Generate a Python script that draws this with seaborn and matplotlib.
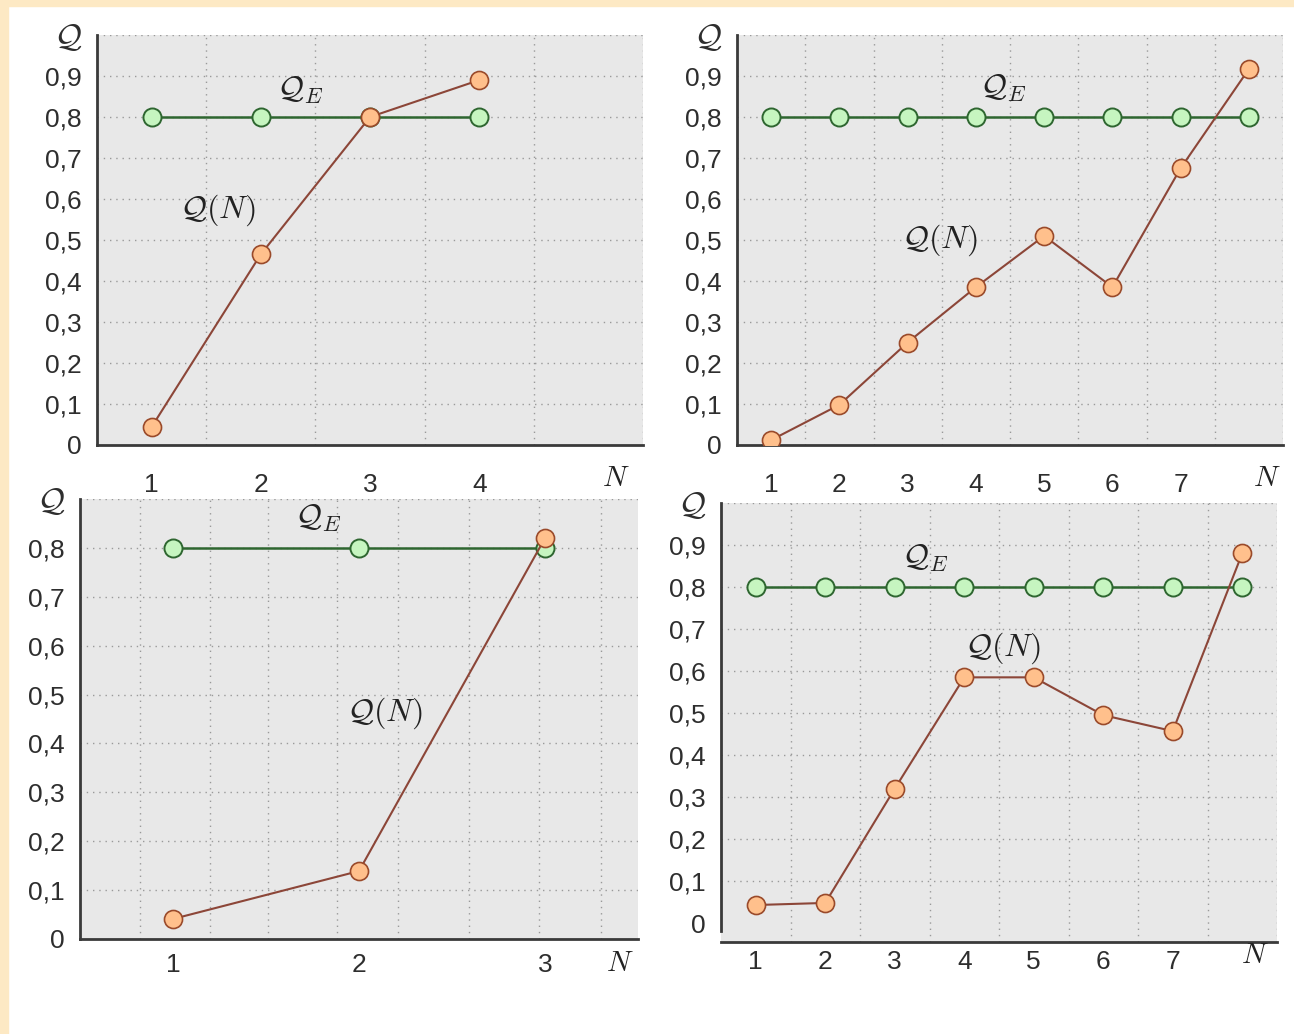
import numpy as np
import pandas as pd
import seaborn as sns
import matplotlib.pyplot as plt
from matplotlib.patches import Rectangle

# values
q_tl = [0.044, 0.465, 0.80, 0.89]
q_tr = [0.012, 0.098, 0.25, 0.385, 0.51, 0.385, 0.675, 0.917]
q_bl = [0.041, 0.139, 0.82]
q_br = [0.043, 0.048, 0.32, 0.585, 0.585, 0.495, 0.457, 0.88]
q_e = 0.8

tl_xlabels = ['1', '2', '3', '4']
tr_xlabels = ['1', '2', '3', '4', '5', '6', '7']
bl_xlabels = ['1', '2', '3']
br_xlabels = ['1', '2', '3', '4', '5', '6', '7']

sns.set_theme(style="white")
plt.rcParams['font.family'] = ['Liberation Sans', 'DejaVu Sans']
plt.rcParams['mathtext.fontset'] = 'cm'

W, H = 1294, 1034
fig = plt.figure(figsize=(W / 100, H / 100), dpi=100)
fig.patch.set_facecolor('white')
cream = '#fde9c4'
fig.patches.append(Rectangle((0, 0), 8 / W, 1, transform=fig.transFigure, color=cream, zorder=0))
fig.patches.append(Rectangle((0, 1 - 6 / H), 1, 6 / H, transform=fig.transFigure, color=cream, zorder=0))

grid_kw = dict(color='#9a9a9a', lw=1.0, ls=(0, (1, 3.5)))
spine_col = '#3a3a3a'
lab_col = '#2e2e2e'


def panel(px, q, nbins, ylim, yt, xlabels, xpad, n_xy, qe_xy, qn_xy, vgrid=None, left_bound=None):
    l, r, t, b = px
    ax = fig.add_axes([l / W, 1 - b / H, (r - l) / W, (b - t) / H])
    ax.set_facecolor('#e8e8e8')
    n = np.arange(1, len(q) + 1)
    df = pd.DataFrame({'N': np.concatenate([n, n]),
                       'Q': np.concatenate([np.full(len(q), q_e), q]),
                       'series': ['QE'] * len(q) + ['QN'] * len(q)})
    sns.lineplot(data=df[df.series == 'QE'], x='N', y='Q', ax=ax, color='#2e6630', lw=1.8,
                 marker='o', markersize=13, markerfacecolor='#c6f5c0', markeredgecolor='#2e6630',
                 markeredgewidth=1.4, zorder=3)
    sns.lineplot(data=df[df.series == 'QN'], x='N', y='Q', ax=ax, color='#8c4638', lw=1.5,
                 marker='o', markersize=13, markerfacecolor='#ffc08c', markeredgecolor='#9a4a2a',
                 markeredgewidth=1.2, zorder=4)
    ax.set_xlim(0.5, nbins + 0.5)
    ax.set_ylim(*ylim)
    bounds = np.arange(0.5, nbins + 1, 1.0)
    ax.set_xticks(bounds)
    ax.set_xticklabels([''] * len(bounds))
    ax.set_xticks(np.arange(1, len(xlabels) + 1), minor=True)
    ax.set_xticklabels(xlabels, minor=True)
    ax.tick_params(axis='x', which='major', direction='out', length=8, width=1.6, color=spine_col)
    ax.tick_params(axis='x', which='minor', length=0, pad=xpad, labelsize=19, labelcolor=lab_col)
    ax.set_yticks(yt)
    ylabs = ['0'] + [('%.1f' % v).replace('.', ',') for v in yt[1:-1]] + [r'$\mathcal{Q}$']
    ax.set_yticklabels(ylabs)
    ax.tick_params(axis='y', direction='out', length=8, width=1.6, color=spine_col, pad=3,
                   labelsize=19, labelcolor=lab_col)
    ax.get_yticklabels()[-1].set_fontsize(24)
    for s in ['top', 'right']:
        ax.spines[s].set_visible(False)
    for s in ['left', 'bottom']:
        ax.spines[s].set_color(spine_col)
        ax.spines[s].set_linewidth(2.0)
    if left_bound is not None:
        ax.spines['left'].set_bounds(left_bound, ylim[1])
    for v in yt[1:]:
        ax.axhline(v, zorder=1, **grid_kw)
    for v in (bounds[1:] if vgrid is None else vgrid):
        ax.axvline(v, zorder=1, **grid_kw)
    ax.set_xlabel('')
    ax.set_ylabel('')
    if ax.get_legend():
        ax.get_legend().remove()
    ax.text(n_xy[0], n_xy[1], r'$N$', fontsize=21, ha='center', va='center',
            transform=ax.transData, clip_on=False, color='#222222')
    ax.text(qe_xy[0], qe_xy[1], r'$\mathcal{Q}_E$', fontsize=23, ha='center', va='center', color='#222222')
    ax.text(qn_xy[0], qn_xy[1], r'$\mathcal{Q}(N)$', fontsize=23, ha='center', va='center', color='#222222')
    return ax


yt10 = [0, 0.1, 0.2, 0.3, 0.4, 0.5, 0.6, 0.7, 0.8, 0.9, 1.0]
yt9 = [0, 0.1, 0.2, 0.3, 0.4, 0.5, 0.6, 0.7, 0.8, 0.9]

panel((97, 643, 35, 445), q_tl, 5, (0, 1.0), yt10, tl_xlabels, 20,
      (5.25, -0.08), (2.36, 0.866), (1.61, 0.573))
panel((737, 1283, 35, 445), q_tr, 8, (0, 1.0), yt10, tr_xlabels, 20,
      (8.26, -0.08), (4.40, 0.87), (3.47, 0.50))
panel((80, 638, 499, 939), q_bl, 3, (0, 0.9), yt9, bl_xlabels, 10,
      (3.40, -0.05), (1.78, 0.861), (2.14, 0.462),
      vgrid=0.5 + np.array([0.32, 0.70, 1.01, 1.38, 1.71, 2.09, 2.47, 2.80]))
panel((721, 1277, 503, 942), q_br, 8, (-0.045, 1.0), yt10, br_xlabels, 6,
      (8.18, -0.075), (3.44, 0.869), (4.56, 0.655), left_bound=-0.02)

plt.savefig("out.png", dpi=100)
plt.close()
